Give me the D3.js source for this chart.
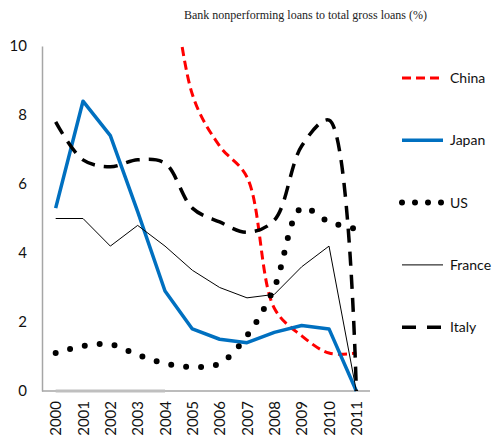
<!DOCTYPE html>
<html>
<head>
<meta charset="utf-8">
<script src="https://cdn.jsdelivr.net/npm/d3@7"></script>
<style>
  body { margin: 0; background: #fff; }
  text { font-family: Lato, "Open Sans", sans-serif; }
</style>
</head>
<body>
<div id="chart"></div>
<script>
var years = ['2000','2001','2002','2003','2004','2005','2006','2007','2008','2009','2010','2011'];

// values, null = no data
var china  = [null, null, null, null, 14.0, 8.6, 7.1, 6.2, 2.4, 1.6, 1.1, 1.1];
var japan  = [5.3, 8.4, 7.4, 5.2, 2.9, 1.8, 1.5, 1.4, 1.7, 1.9, 1.8, 0];
var us     = [1.1, 1.3, 1.35, 1.05, 0.8, 0.7, 0.8, 1.6, 3.0, 5.3, 4.9, 4.7];
var france = [5.0, 5.0, 4.2, 4.8, 4.2, 3.5, 3.0, 2.7, 2.8, 3.6, 4.2, 0];
var italy  = [7.8, 6.7, 6.5, 6.7, 6.6, 5.3, 4.9, 4.6, 4.95, 7.1, 7.85, 0];
var blank  = [0, 0, 0, 0, 0, null, null, null, null, null, null, null];

var yTicks = [0, 2, 4, 6, 8, 10];

var width = 495, height = 443;
var plotLeft = 42, plotRight = 370, plotTop = 46, plotBottom = 391;

var svg = d3.select('#chart').append('svg')
    .attr('width', width)
    .attr('height', height);

var x = d3.scalePoint().domain(years).range([plotLeft, plotRight]).padding(0.5);
var y = d3.scaleLinear().domain([0, 10]).range([plotBottom, plotTop]);

svg.append('defs').append('clipPath').attr('id', 'plot')
  .append('rect').attr('x', plotLeft).attr('y', plotTop)
  .attr('width', plotRight - plotLeft + 10).attr('height', plotBottom - plotTop + 5);

// title
svg.append('text')
    .attr('x', 184).attr('y', 19)
    .style('font-family', '"Liberation Serif", "DejaVu Serif", serif')
    .style('font-size', '12px')
    .style('fill', '#222')
    .text('Bank nonperforming loans  to total gross loans (%)');

// axes
var yAxis = svg.append('g')
    .attr('transform', 'translate(' + plotLeft + ',0)')
    .call(d3.axisLeft(y).tickValues(yTicks).tickSize(0).tickPadding(15));
yAxis.select('.domain').attr('stroke', '#a6a6a6').attr('stroke-width', 1.5);
yAxis.selectAll('text').style('font-size', '15px').style('fill', '#111');

var xAxis = svg.append('g')
    .attr('transform', 'translate(0,' + plotBottom + ')')
    .call(d3.axisBottom(x).tickSize(0).tickSizeOuter(0));
xAxis.select('.domain').attr('stroke', '#a6a6a6').attr('stroke-width', 1.5)
    .attr('d', 'M' + plotLeft + ',0H' + plotRight);
xAxis.selectAll('text')
    .style('font-size', '15px').style('fill', '#111')
    .attr('text-anchor', 'end')
    .attr('dy', '0.35em')
    .attr('transform', 'translate(0,10) rotate(-90)')
    .attr('x', 0).attr('y', 0);

var series = [
  {name: null,     values: blank,  color: '#bfbfbf', width: 3,   dash: null,   curve: d3.curveLinear},
  {name: 'China',  values: china,  color: '#ff0000', width: 3,   dash: '9,5',  curve: d3.curveCatmullRom},
  {name: 'Japan',  values: japan,  color: '#0070c0', width: 3.5, dash: null,   curve: d3.curveLinear},
  {name: 'US',     values: us,     color: '#000',    width: 6,   dash: '0,15', curve: d3.curveCatmullRom, cap: 'round'},
  {name: 'France', values: france, color: '#000',    width: 1,   dash: null,   curve: d3.curveLinear},
  {name: 'Italy',  values: italy,  color: '#000',    width: 3.5, dash: '14,9', curve: d3.curveCatmullRom}
];

var plot = svg.append('g').attr('clip-path', 'url(#plot)');

series.forEach(function(s) {
  var line = d3.line()
      .defined(function(d) { return d != null; })
      .x(function(d, i) { return x(years[i]); })
      .y(function(d) { return y(d); })
      .curve(s.curve);
  plot.append('path')
      .datum(s.values)
      .attr('d', line)
      .attr('fill', 'none')
      .attr('stroke', s.color)
      .attr('stroke-width', s.width)
      .attr('stroke-dasharray', s.dash)
      .attr('stroke-linecap', s.cap || 'butt')
      .attr('stroke-linejoin', 'round');
});

// legend
var legend = svg.append('g');
series.filter(function(s) { return s.name; }).forEach(function(s, i) {
  var ly = 78 + i * 62.3;
  legend.append('line')
      .attr('x1', 402).attr('x2', 443)
      .attr('y1', ly).attr('y2', ly)
      .attr('stroke', s.color)
      .attr('stroke-width', s.width)
      .attr('stroke-dasharray', s.cap ? '0,13' : (s.name == 'Italy' ? '14,11' : s.dash))
      .attr('stroke-linecap', s.cap || 'butt');
  legend.append('text')
      .attr('x', 450).attr('y', ly)
      .attr('dy', '0.35em')
      .style('font-size', '14px')
      .style('fill', '#111')
      .text(s.name);
});
</script>
</body>
</html>
